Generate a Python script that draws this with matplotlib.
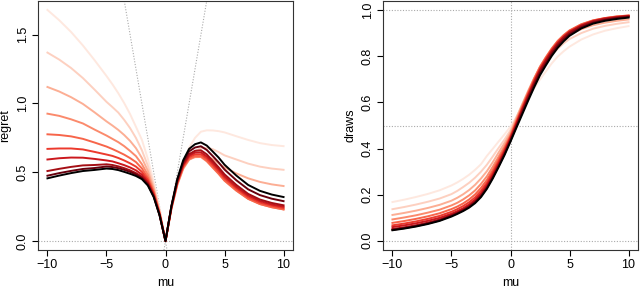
import matplotlib
matplotlib.use("Agg")
import matplotlib.pyplot as plt

plt.rcParams['font.family'] = ['Liberation Sans', 'DejaVu Sans']

mu = [-10, -9, -8, -7, -6, -5, -4.5, -4, -3.5, -3, -2.5, -2, -1.5, -1, -0.5, 0,
      0.5, 1, 1.5, 2, 2.5, 3, 3.5, 4, 4.5, 5, 6, 7, 8, 9, 10]

# one row per curve, lightest first, black last
regret = [
    [1.68, 1.605, 1.52, 1.422, 1.314, 1.20, 1.14, 1.075, 1.003, 0.923, 0.83, 0.736, 0.599, 0.431, 0.231, 0,
     0.232, 0.42, 0.57, 0.678, 0.75, 0.795, 0.805, 0.804, 0.799, 0.79, 0.762, 0.735, 0.712, 0.698, 0.69],
    [1.37, 1.319, 1.258, 1.185, 1.10, 1.012, 0.974, 0.934, 0.881, 0.821, 0.749, 0.660, 0.549, 0.403, 0.220, 0,
     0.232, 0.409, 0.535, 0.614, 0.653, 0.677, 0.677, 0.668, 0.647, 0.623, 0.593, 0.563, 0.541, 0.527, 0.518],
    [1.12, 1.087, 1.046, 0.997, 0.935, 0.870, 0.840, 0.808, 0.771, 0.728, 0.675, 0.604, 0.511, 0.383, 0.212, 0,
     0.234, 0.407, 0.524, 0.591, 0.617, 0.627, 0.615, 0.596, 0.565, 0.535, 0.492, 0.456, 0.430, 0.412, 0.40],
    [0.926, 0.910, 0.885, 0.855, 0.810, 0.767, 0.743, 0.719, 0.690, 0.655, 0.617, 0.559, 0.482, 0.366, 0.205, 0,
     0.238, 0.414, 0.531, 0.593, 0.61, 0.611, 0.579, 0.533, 0.488, 0.438, 0.366, 0.307, 0.269, 0.246, 0.23],
    [0.776, 0.771, 0.761, 0.743, 0.716, 0.687, 0.669, 0.649, 0.628, 0.603, 0.574, 0.528, 0.460, 0.355, 0.201, 0,
     0.241, 0.418, 0.536, 0.599, 0.617, 0.617, 0.584, 0.537, 0.491, 0.441, 0.368, 0.307, 0.269, 0.246, 0.23],
    [0.67, 0.673, 0.673, 0.666, 0.648, 0.629, 0.619, 0.604, 0.586, 0.565, 0.541, 0.503, 0.444, 0.345, 0.197, 0,
     0.243, 0.424, 0.545, 0.61, 0.63, 0.631, 0.599, 0.553, 0.506, 0.456, 0.382, 0.319, 0.28, 0.257, 0.24],
    [0.593, 0.602, 0.607, 0.606, 0.597, 0.586, 0.579, 0.566, 0.552, 0.535, 0.514, 0.483, 0.430, 0.336, 0.194, 0,
     0.246, 0.43, 0.554, 0.621, 0.643, 0.645, 0.614, 0.568, 0.522, 0.47, 0.394, 0.331, 0.291, 0.266, 0.25],
    [0.509, 0.525, 0.539, 0.550, 0.553, 0.558, 0.553, 0.543, 0.530, 0.514, 0.494, 0.468, 0.419, 0.330, 0.191, 0,
     0.249, 0.435, 0.562, 0.632, 0.656, 0.66, 0.63, 0.583, 0.536, 0.485, 0.408, 0.343, 0.302, 0.277, 0.26],
    [0.475, 0.494, 0.510, 0.524, 0.531, 0.542, 0.538, 0.530, 0.518, 0.503, 0.484, 0.459, 0.412, 0.324, 0.188, 0,
     0.252, 0.443, 0.575, 0.652, 0.68, 0.689, 0.662, 0.618, 0.572, 0.52, 0.442, 0.376, 0.334, 0.308, 0.29],
    [0.456, 0.476, 0.494, 0.509, 0.517, 0.527, 0.524, 0.516, 0.503, 0.489, 0.473, 0.450, 0.404, 0.320, 0.186, 0,
     0.255, 0.451, 0.588, 0.67, 0.704, 0.717, 0.694, 0.651, 0.607, 0.555, 0.476, 0.408, 0.365, 0.338, 0.32],
]

draws = [
    [0.168, 0.1783, 0.190, 0.2032, 0.219, 0.240, 0.2533, 0.2688, 0.2866, 0.3077, 0.332, 0.368, 0.399, 0.431, 0.462, 0.495,
     0.537, 0.580, 0.620, 0.661, 0.70, 0.735, 0.77, 0.799, 0.822, 0.842, 0.873, 0.895, 0.911, 0.922, 0.931],
    [0.137, 0.1465, 0.1572, 0.1693, 0.1833, 0.2024, 0.2165, 0.2335, 0.2517, 0.2737, 0.2997, 0.3299, 0.3658, 0.4031, 0.4397, 0.48,
     0.536, 0.591, 0.644, 0.693, 0.739, 0.774, 0.807, 0.833, 0.856, 0.875, 0.901, 0.920, 0.932, 0.941, 0.948],
    [0.112, 0.1208, 0.1308, 0.1424, 0.1559, 0.1739, 0.1867, 0.202, 0.2203, 0.2427, 0.2701, 0.3018, 0.3408, 0.3833, 0.4245, 0.47,
     0.532, 0.593, 0.651, 0.705, 0.753, 0.791, 0.824, 0.851, 0.874, 0.893, 0.918, 0.935, 0.946, 0.954, 0.96],
    [0.0926, 0.1011, 0.1106, 0.1221, 0.135, 0.1534, 0.165, 0.1797, 0.1971, 0.2183, 0.2466, 0.2797, 0.3213, 0.3656, 0.4107, 0.46,
     0.524, 0.586, 0.646, 0.704, 0.756, 0.797, 0.835, 0.867, 0.892, 0.912, 0.939, 0.956, 0.966, 0.973, 0.977],
    [0.0776, 0.0857, 0.0951, 0.1062, 0.1194, 0.1374, 0.1486, 0.1623, 0.1794, 0.201, 0.2294, 0.2638, 0.3068, 0.3546, 0.4022, 0.455,
     0.519, 0.582, 0.642, 0.700, 0.753, 0.795, 0.833, 0.866, 0.891, 0.912, 0.939, 0.956, 0.966, 0.973, 0.977],
    [0.067, 0.0748, 0.0841, 0.0951, 0.108, 0.1257, 0.1375, 0.151, 0.1674, 0.1883, 0.2164, 0.2514, 0.2957, 0.3448, 0.3948, 0.45,
     0.513, 0.576, 0.637, 0.695, 0.748, 0.790, 0.829, 0.862, 0.8875, 0.909, 0.936, 0.954, 0.965, 0.9715, 0.976],
    [0.0593, 0.0669, 0.0759, 0.0866, 0.0995, 0.1172, 0.1286, 0.1414, 0.1577, 0.1783, 0.2056, 0.2414, 0.2869, 0.3363, 0.3886, 0.445,
     0.508, 0.571, 0.631, 0.689, 0.743, 0.785, 0.825, 0.858, 0.884, 0.906, 0.934, 0.953, 0.964, 0.970, 0.975],
    [0.0509, 0.0583, 0.0674, 0.0786, 0.0921, 0.1116, 0.1229, 0.1358, 0.1514, 0.1713, 0.1976, 0.2342, 0.279, 0.3297, 0.3823, 0.44,
     0.503, 0.565, 0.625, 0.684, 0.738, 0.780, 0.820, 0.854, 0.881, 0.903, 0.932, 0.951, 0.962, 0.969, 0.974],
    [0.0475, 0.0549, 0.0638, 0.0749, 0.0885, 0.1084, 0.1196, 0.1325, 0.148, 0.1677, 0.1936, 0.2297, 0.2746, 0.3244, 0.377, 0.435,
     0.496, 0.557, 0.616, 0.674, 0.728, 0.770, 0.811, 0.846, 0.873, 0.896, 0.926, 0.946, 0.958, 0.966, 0.971],
    [0.0456, 0.0529, 0.0618, 0.0727, 0.0862, 0.105, 0.1165, 0.129, 0.1438, 0.163, 0.1892, 0.225, 0.270, 0.320, 0.372, 0.43,
     0.490, 0.549, 0.608, 0.665, 0.718, 0.761, 0.802, 0.837, 0.865, 0.889, 0.921, 0.942, 0.954, 0.962, 0.968],
]

colors = ["#fee8df", "#fdd0c0", "#fcae94", "#fb8a6c", "#f7654a", "#ec3a2d",
          "#cb181d", "#a50f15", "#67000d", "#000000"]

xticks = [-10, -5, 0, 5, 10]
yticks_regret = [0.0, 0.5, 1.0, 1.5]
yticks_draws = [0.0, 0.2, 0.4, 0.6, 0.8, 1.0]

fig = plt.figure(figsize=(6.4, 2.88), dpi=100)
ax1 = fig.add_axes([38 / 640, 38 / 288, 255 / 640, 249 / 288])
ax2 = fig.add_axes([383 / 640, 38 / 288, 255 / 640, 249 / 288])

dot = dict(color="#aaaaaa", linestyle=(0, (1, 1.5)), linewidth=0.8, zorder=1)

# left: regret
ax1.axhline(0, **dot)
ax1.axline((0, 0), slope=0.5, **dot)
ax1.axline((0, 0), slope=-0.5, **dot)
for row, c in zip(regret, colors):
    ax1.plot(mu, row, color=c, linewidth=1.4, zorder=2, solid_joinstyle="round")
ax1.set_xlim(-10.8, 10.8)
ax1.set_ylim(-0.065, 1.745)
ax1.set_yticks(yticks_regret)
ax1.set_yticklabels([f"{v:.1f}" for v in yticks_regret], rotation=90, va="center")
ax1.set_ylabel("regret", fontsize=9, labelpad=4)

# right: draws
for h in [0, 0.5, 1]:
    ax2.axhline(h, **dot)
ax2.axvline(0, **dot)
for row, c in zip(draws, colors):
    ax2.plot(mu, row, color=c, linewidth=1.4, zorder=2, solid_joinstyle="round")
ax2.set_xlim(-10.8, 10.8)
ax2.set_ylim(-0.04, 1.04)
ax2.set_yticks(yticks_draws)
ax2.set_yticklabels([f"{v:.1f}" for v in yticks_draws], rotation=90, va="center")
ax2.set_ylabel("draws", fontsize=9, labelpad=4)

for ax in (ax1, ax2):
    ax.set_xticks(xticks)
    ax.set_xticklabels([f"{v}".replace("-", "\u2212") for v in xticks])
    ax.set_xlabel("mu", fontsize=9, labelpad=4)
    ax.tick_params(direction="out", length=4.5, width=0.8, labelsize=9, pad=2)
    for s in ax.spines.values():
        s.set_linewidth(0.8)
        s.set_color("#333333")

fig.savefig("out.png", dpi=100)
